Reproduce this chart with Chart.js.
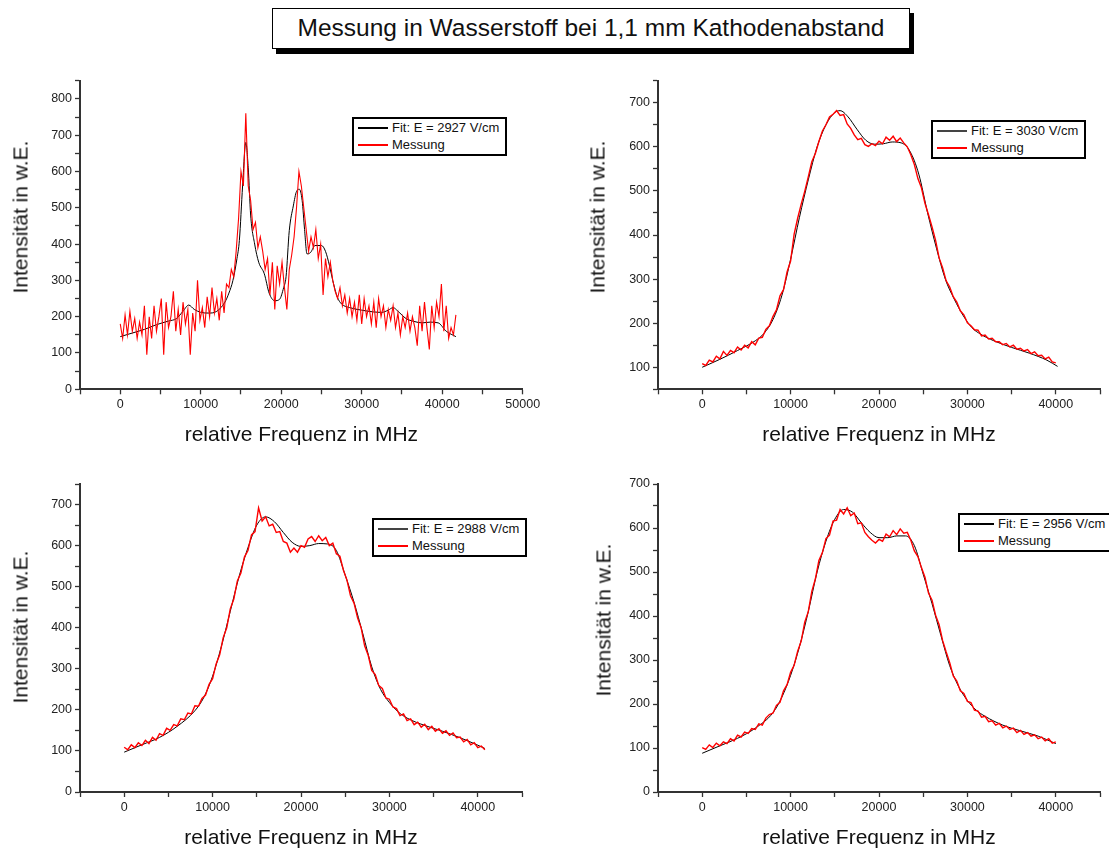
<!DOCTYPE html>
<html>
<head>
<meta charset="utf-8">
<script src="https://cdn.jsdelivr.net/npm/chart.js@4.4.1/dist/chart.umd.min.js"></script>
<style>
  html, body { margin: 0; padding: 0; background: #fff; }
  body { width: 1109px; height: 848px; position: relative; overflow: hidden;
         font-family: 'Liberation Sans', Arial, sans-serif; color: #111; }
  canvas { position: absolute; }
  .title { position: absolute; left: 272px; top: 8px; width: 638px; height: 41px; box-sizing: border-box;
           border: 1.5px solid #000; box-shadow: 4px 5px 0 #000; background: #fff;
           font-size: 24.5px; line-height: 38px; text-align: center; white-space: nowrap; }
  .xt, .yt { position: absolute; font-size: 21px; line-height: 1; white-space: nowrap; color: #111; }
  .xt { transform: translate(-50%, -50%); }
  .yt { transform: translate(-50%, -50%) rotate(-90deg); }
  .legend { position: absolute; width: 155px; height: 39px; box-sizing: border-box;
            border: 2px solid #000; background: #fff; font-size: 13px; }
  .legend .row { position: absolute; left: 38px; height: 14px; line-height: 14px; white-space: nowrap; }
  .legend .swatch { position: absolute; left: 4px; width: 30px; }
</style>
</head>
<body>
<div class="title">Messung in Wasserstoff bei 1,1 mm Kathodenabstand</div>

<script>
// ============================================================
// Messung in Wasserstoff – four spectra, measurement + fit
// ============================================================

const X_TITLE = 'relative Frequenz in MHz';
const Y_TITLE = 'Intensität in w.E.';

// ── Panel 1 (top left), E = 2927 V/cm ─────────────────────────
const messStep1 = 300;
const mess1 = [
    180,140,205,150,215,160,195,140,185,150,
    230, 95,200,140,230,160,200,250, 95,240,
    170,200,270,160,220,150,240,180,220, 95,
    210,160,300,190,225,170,255,200,280,210,
    250,190,270,210,290,280,330,310,380,470,
    600,560,760,560,520,440,460,390,420,380,
    330,360,260,350,220,340,290,350,280,220,
    330,370,420,500,600,560,500,440,380,420,
    390,440,360,400,260,360,310,350,300,270,
    250,280,230,260,210,250,200,240,190,260,
    180,250,200,230,180,240,170,250,200,230,
    170,220,190,230,170,210,150,200,170,210,
    160,200,170,120,230,160,240,170,110,230,
    170,240,200,290,160,230,140,170,150,205
];
const fitFreq1 = [0,1500,3000,4500,6000,7000,7800,8500,9200,10000,11000,12000,13000,13500,14000,
    14500,14800,15200,15600,15900,16200,16700,17200,17900,18500,19200,19800,20300,20600,21000,
    21500,21900,22250,22600,22900,23200,23650,24200,25000,25500,26000,26400,26970,27500,28500,
    30000,31500,32500,33300,33900,34500,35500,36500,37500,38500,39500,40500,41700];
const fit1 = [145,155,165,178,188,195,215,232,220,212,210,215,240,265,300,
    360,410,560,680,610,480,400,350,318,265,244,248,280,310,437,
    505,545,551,520,440,373,377,396,396,380,340,300,254,235,225,
    218,213,212,218,225,215,195,187,183,185,183,160,145];

// ── Panel 2 (top right), E = 3030 V/cm ────────────────────────
const messStep2 = 400;
const mess2 = [
    108,104,116,112,125,119,136,127,138,133,
    146,139,150,144,158,151,166,168,186,194,
    215,230,262,276,316,341,402,438,470,499,
    532,566,585,612,636,650,668,674,682,671,
    673,652,642,627,616,619,605,601,607,603,
    613,607,622,615,624,612,620,609,600,582,
    560,528,507,472,446,418,388,348,325,296,
    282,260,248,228,219,201,194,185,184,171,
    173,164,166,158,158,151,154,146,150,141,
    143,137,140,131,135,126,127,119,123,112,
    110
];
const fitFreq2 = [0,2000,4000,6000,7000,8000,9000,10000,11000,12000,13000,14000,15000,15600,16500,
    17500,18500,19500,20500,21500,22500,23500,24500,25500,26500,27500,28500,29500,30500,31500,
    33000,35000,37000,39000,40200];
const fit2 = [100,118,138,160,177,208,262,345,440,525,600,650,678,682,668,
    640,615,606,607,611,609,590,538,450,370,300,255,218,190,175,
    160,145,132,116,102];

// ── Panel 3 (bottom left), E = 2988 V/cm ──────────────────────
const messStep3 = 400;
const mess3 = [
    109,103,115,108,120,113,126,118,133,126,
    142,138,155,150,164,161,178,176,192,190,
    210,209,228,236,262,276,312,334,376,400,
    446,470,514,533,572,588,626,634,692,660,
    670,648,652,632,634,610,606,584,594,584,
    600,596,616,622,610,624,612,620,600,606,
    580,574,540,516,478,460,424,400,356,333,
    296,286,259,252,229,226,207,203,186,190,
    174,178,164,170,158,165,152,160,148,154,
    143,149,138,144,132,134,122,128,115,120,
    108,112,103
];
const fitFreq3 = [0,2000,4000,6000,8000,9000,10000,11000,12000,13000,14000,15000,16000,17000,18000,
    19000,20000,21000,22000,23000,24000,25000,26000,27000,28000,29000,30000,31000,32000,34000,
    36000,38000,40000,40800];
const fit3 = [97,115,133,160,198,230,282,355,440,525,595,650,670,658,632,
    608,598,600,605,604,588,528,462,385,305,250,218,195,180,162,
    148,132,114,106];

// ── Panel 4 (bottom right), E = 2956 V/cm ─────────────────────
const messStep4 = 400;
const mess4 = [
    101, 97,107,101,111,105,114,110,121,116,
    129,125,136,133,144,142,155,152,168,176,
    179,197,204,230,244,272,288,320,343,386,
    410,456,484,526,544,576,584,616,618,642,
    632,646,628,634,610,612,590,580,572,566,
    574,570,586,580,594,585,598,588,590,572,
    548,535,510,488,452,436,402,380,344,318,
    294,264,252,230,224,206,203,186,184,170,
    172,160,162,152,156,146,150,142,145,135,
    140,131,135,127,130,121,125,116,121,111,
    114
];
const fitFreq4 = [0,2000,4000,6000,8000,9000,10000,11000,12000,13000,14000,15000,16000,17000,18000,
    19000,20000,21000,22000,23000,24000,25000,26000,27000,28000,29000,30000,31000,32000,34000,
    36000,38000,40000];
const fit4 = [88,105,122,145,180,215,265,330,410,500,570,620,642,636,612,
    590,578,578,582,582,560,495,428,356,287,240,208,186,172,152,
    139,127,110];

// ── Helpers ──────────────────────────────────────────────────
const evenFreq = (n, step) => Array.from({ length: n }, (_, i) => i * step);
const pairs    = (xs, ys) => ys.map((y, i) => ({ x: xs[i], y }));

Chart.defaults.font.family = "'Liberation Sans', Arial, sans-serif";
Chart.defaults.font.size   = 12.5;
Chart.defaults.color       = '#222';

function addLegend(pos, fitLabel, fitColor) {
    const box = document.createElement('div');
    box.className = 'legend';
    box.style.left = pos.left + 'px';
    box.style.top  = pos.top + 'px';
    // [text, line colour, row top, line top, line thickness]
    [[fitLabel, fitColor, 2, 8, 1.5], ['Messung', '#ff0000', 19, 25, 2]].forEach(([text, color, top, lineTop, th]) => {
        const sw = document.createElement('div');
        sw.className = 'swatch';
        sw.style.top = lineTop + 'px';
        sw.style.height = th + 'px';
        sw.style.background = color;
        box.appendChild(sw);
        const row = document.createElement('div');
        row.className = 'row';
        row.style.top = top + 'px';
        row.textContent = text;
        box.appendChild(row);
    });
    document.body.appendChild(box);
}

function addText(cls, x, y, text) {
    const d = document.createElement('div');
    d.className = cls;
    d.style.left = x + 'px';
    d.style.top  = y + 'px';
    d.textContent = text;
    document.body.appendChild(d);
}

function drawPanel(p) {
    const c = document.createElement('canvas');
    c.width  = p.rect.w;
    c.height = p.rect.h;
    c.style.left = p.rect.left + 'px';
    c.style.top  = p.rect.top + 'px';
    document.body.appendChild(c);

    const axisStyle = {
        grid:   { drawOnChartArea: false, drawTicks: true, tickLength: 5, tickColor: '#333', tickWidth: 1.3 },
        border: { display: true, color: '#333', width: 2 }
    };

    new Chart(c.getContext('2d'), {
        type: 'line',
        data: {
            datasets: [
                {
                    label: 'Messung',
                    data: pairs(p.measX, p.measY),
                    borderColor: '#ff0000',
                    borderWidth: p.measWidth,
                    pointRadius: 0,
                    tension: 0
                },
                {
                    label: p.fitLabel,
                    data: pairs(p.fitX, p.fitY),
                    borderColor: '#000',
                    borderWidth: 1,
                    pointRadius: 0,
                    cubicInterpolationMode: 'monotone'
                }
            ]
        },
        options: {
            responsive: false,
            animation: false,
            events: [],
            layout: {
                padding: {
                    left: 0,
                    top: p.area.y0 - p.rect.top,
                    right: p.rect.left + p.rect.w - p.area.x1,
                    bottom: 0
                }
            },
            plugins: { legend: { display: false }, tooltip: { enabled: false } },
            scales: {
                x: {
                    type: 'linear',
                    min: -5000, max: p.xMax,
                    ...axisStyle,
                    ticks: {
                        stepSize: 5000, maxTicksLimit: 100, autoSkip: false, maxRotation: 0, padding: 3,
                        callback: (v) => (v >= 0 && v % 10000 === 0) ? String(v) : ''
                    },
                    afterFit: (s) => { s.height = p.rect.top + p.rect.h - p.area.y1; }
                },
                y: {
                    min: p.yMin, max: p.yMax,
                    ...axisStyle,
                    ticks: {
                        stepSize: 50, maxTicksLimit: 100, autoSkip: false, padding: 3,
                        callback: (v) => (v % 100 === 0) ? String(v) : ''
                    },
                    afterFit: (s) => { s.width = p.area.x0 - p.rect.left; }
                }
            }
        }
    });

    addLegend(p.legend, p.fitLabel, p.fitColor);
    addText('xt', (p.area.x0 + p.area.x1) / 2, p.area.y1 + 44, X_TITLE);
    addText('yt', p.yTitle.x, p.yTitle.y, Y_TITLE);
}

// ── Build the four panels ─────────────────────────────────────
drawPanel({
    rect: { left: 0, top: 60, w: 550, h: 390 },
    area: { x0: 80, y0: 80.7, x1: 522.7, y1: 389.3 },
    xMax: 50000, yMin: 0, yMax: 850,
    measX: evenFreq(mess1.length, messStep1), measY: mess1, measWidth: 1.1,
    fitX: fitFreq1, fitY: fit1,
    fitLabel: 'Fit: E = 2927 V/cm', fitColor: '#000',
    legend: { left: 352, top: 117 },
    yTitle: { x: 20, y: 217 }
});

drawPanel({
    rect: { left: 560, top: 60, w: 549, h: 390 },
    area: { x0: 658, y0: 80.7, x1: 1100, y1: 389.3 },
    xMax: 45000, yMin: 50, yMax: 750,
    measX: evenFreq(mess2.length, messStep2), measY: mess2, measWidth: 1.4,
    fitX: fitFreq2, fitY: fit2,
    fitLabel: 'Fit: E = 3030 V/cm', fitColor: '#444',
    legend: { left: 931, top: 120 },
    yTitle: { x: 597, y: 217 }
});

drawPanel({
    rect: { left: 0, top: 465, w: 550, h: 370 },
    area: { x0: 80, y0: 484, x1: 522, y1: 792 },
    xMax: 45000, yMin: 0, yMax: 750,
    measX: evenFreq(mess3.length, messStep3), measY: mess3, measWidth: 1.4,
    fitX: fitFreq3, fitY: fit3,
    fitLabel: 'Fit: E = 2988 V/cm', fitColor: '#444',
    legend: { left: 372, top: 518 },
    yTitle: { x: 20, y: 627 }
});

drawPanel({
    rect: { left: 560, top: 465, w: 549, h: 370 },
    area: { x0: 658, y0: 484, x1: 1100, y1: 792 },
    xMax: 45000, yMin: 0, yMax: 700,
    measX: evenFreq(mess4.length, messStep4), measY: mess4, measWidth: 1.4,
    fitX: fitFreq4, fitY: fit4,
    fitLabel: 'Fit: E = 2956 V/cm', fitColor: '#000',
    legend: { left: 958, top: 513 },
    yTitle: { x: 603, y: 620 }
});
</script>
</body>
</html>
